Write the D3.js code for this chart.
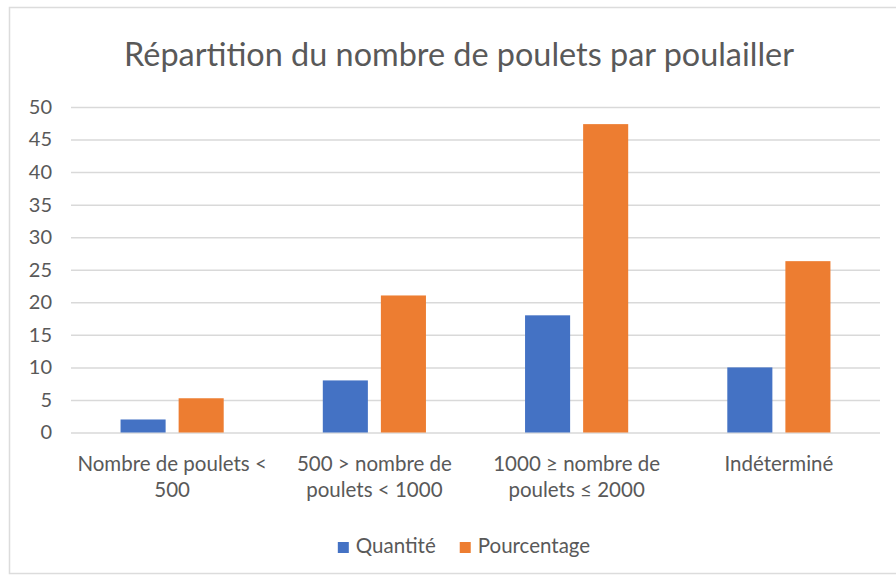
<!DOCTYPE html>
<html>
<head>
<meta charset="utf-8">
<script src="https://cdn.jsdelivr.net/npm/d3@7"></script>
<style>
  html, body { margin: 0; padding: 0; background: #ffffff; }
  svg { display: block; font-family: Lato, "Open Sans", sans-serif; }
</style>
</head>
<body>
<svg id="chart" width="896" height="580"></svg>
<script>
// Chart content
const title = "Répartition du nombre de poulets par poulailler";
const categories = [
  "Nombre de poulets < 500",
  "500 > nombre de poulets < 1000",
  "1000 ≥ nombre de poulets ≤ 2000",
  "Indéterminé"
];
const seriesNames = ["Quantité", "Pourcentage"];
const quantite = [2, 8, 18, 10];
const pourcentage = [5.26, 21.05, 47.37, 26.32];
const yTicks = [0, 5, 10, 15, 20, 25, 30, 35, 40, 45, 50];
const colors = ["#4472C4", "#ED7D31"];

const svg = d3.select("#chart");
const textColor = "#595959";
const gridColor = "#D9D9D9";

// Chart frame
svg.append("rect")
  .attr("x", 9.5).attr("y", 7.5)
  .attr("width", 900).attr("height", 566)
  .attr("fill", "#fff")
  .attr("stroke", "#DCDCDC")
  .attr("stroke-width", 1.5);

// Plot area
const plot = { left: 71, right: 880, top: 107, bottom: 432.5 };

const x0 = d3.scaleBand()
  .domain(categories)
  .range([plot.left, plot.right])
  .paddingInner(0.49)
  .paddingOuter(0.245);

const x1 = d3.scaleBand()
  .domain(seriesNames)
  .range([0, x0.bandwidth()])
  .paddingInner(0.224)
  .paddingOuter(0);

const y = d3.scaleLinear()
  .domain([0, 50])
  .range([plot.bottom, plot.top]);

// Title
svg.append("text")
  .attr("x", 459).attr("y", 66)
  .attr("text-anchor", "middle")
  .attr("fill", textColor)
  .attr("font-size", 32.4)
  .text(title);

// Gridlines and y labels via axis
const yAxis = d3.axisLeft(y)
  .tickValues(yTicks)
  .tickSize(-(plot.right - plot.left))
  .tickPadding(19)
  .tickFormat(d3.format("d"));

const gy = svg.append("g")
  .attr("transform", `translate(${plot.left},0)`)
  .call(yAxis);
gy.select(".domain").remove();
gy.selectAll(".tick line")
  .attr("stroke", gridColor)
  .attr("stroke-width", 1.5);
gy.selectAll(".tick text")
  .attr("fill", textColor)
  .attr("font-size", 20)
  .attr("font-family", "Lato, sans-serif");

// Bars
const rows = categories.map((c, i) => ({
  cat: c,
  values: [
    { key: seriesNames[0], value: quantite[i] },
    { key: seriesNames[1], value: pourcentage[i] }
  ]
}));

const groups = svg.append("g")
  .selectAll("g")
  .data(rows)
  .join("g")
  .attr("transform", d => `translate(${x0(d.cat)},0)`);

groups.selectAll("rect")
  .data(d => d.values)
  .join("rect")
  .attr("x", d => x1(d.key))
  .attr("y", d => y(d.value))
  .attr("width", x1.bandwidth())
  .attr("height", d => y(0) - y(d.value))
  .attr("fill", (d, i) => colors[i]);

// Category labels, wrapped to the band width
const xAxis = d3.axisBottom(x0).tickSize(0).tickPadding(0);
const gx = svg.append("g")
  .attr("transform", `translate(0,${plot.bottom})`)
  .call(xAxis);
gx.select(".domain").remove();
gx.selectAll(".tick text")
  .attr("fill", textColor)
  .attr("font-size", 20.5)
  .attr("font-family", "Lato, sans-serif")
  .attr("dy", null)
  .attr("y", null)
  .call(wrap, 198);

function wrap(sel, width) {
  sel.each(function () {
    const text = d3.select(this);
    const words = text.text().split(/\s+/);
    text.text(null);
    const firstBase = 38.5;
    const lineHeight = 26;
    let line = [];
    let lineNo = 0;
    let tspan = text.append("tspan").attr("x", 0).attr("y", firstBase);
    for (const w of words) {
      line.push(w);
      tspan.text(line.join(" "));
      if (tspan.node().getComputedTextLength() > width && line.length > 1) {
        line.pop();
        tspan.text(line.join(" "));
        line = [w];
        lineNo++;
        tspan = text.append("tspan")
          .attr("x", 0)
          .attr("y", firstBase + lineNo * lineHeight)
          .text(w);
      }
    }
  });
}

// Legend
const legend = svg.append("g");
let lx = 0;
seriesNames.forEach((name, i) => {
  const item = legend.append("g").attr("transform", `translate(${lx},0)`);
  item.append("rect")
    .attr("x", 0).attr("y", -11)
    .attr("width", 11).attr("height", 11)
    .attr("fill", colors[i]);
  const t = item.append("text")
    .attr("x", 18).attr("y", 0)
    .attr("fill", textColor)
    .attr("font-size", 20.5)
    .text(name);
  lx += 18 + t.node().getComputedTextLength() + 24;
});
const legendWidth = lx - 24;
legend.attr("transform", `translate(${464 - legendWidth / 2},553)`);
</script>
</body>
</html>
